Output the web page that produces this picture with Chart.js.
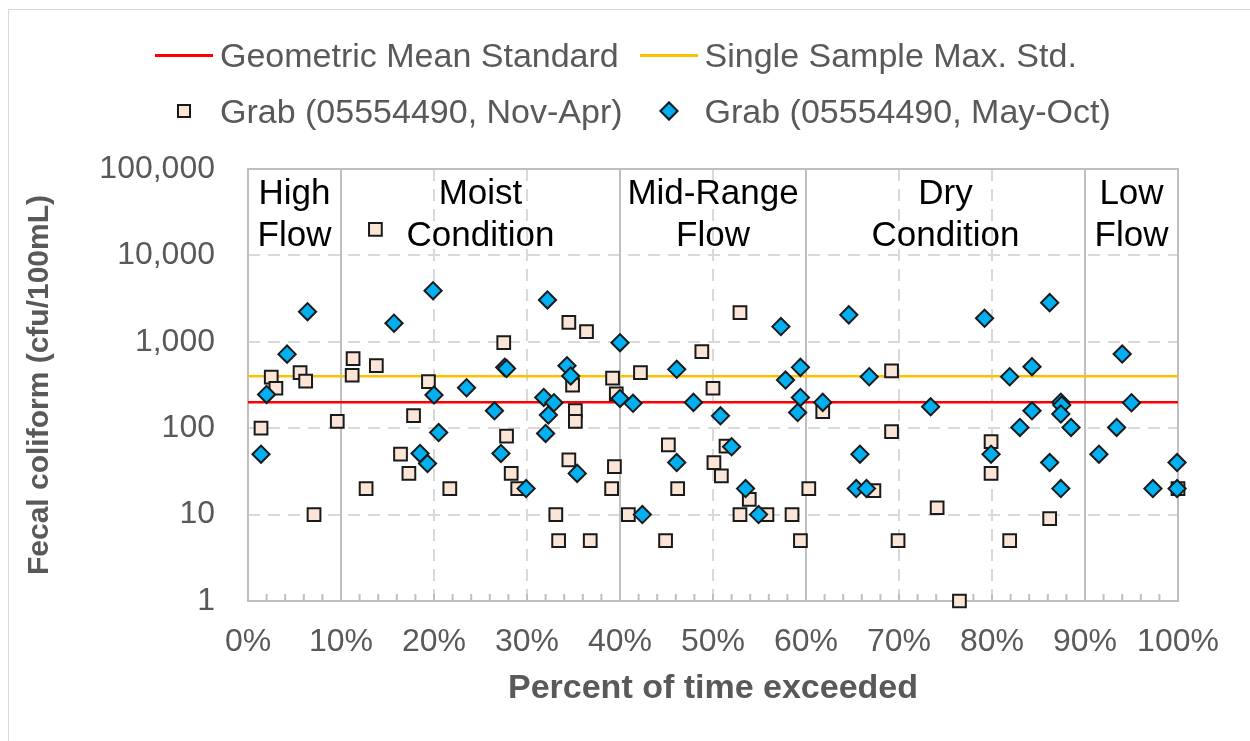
<!DOCTYPE html>
<html>
<head>
<meta charset="utf-8">
<title>Fecal coliform - load duration</title>
<script src="https://cdn.jsdelivr.net/npm/chart.js@4.4.1/dist/chart.umd.min.js"></script>
<style>
  body { margin: 0; background: #fff; font-family: "Liberation Sans", Arial, sans-serif; }
  #frame { position: absolute; left: 8px; top: 9px; width: 1260px; height: 760px; border: 1px solid #d9d9d9; }
  #wrap { position: absolute; left: 0; top: 0; width: 1250px; height: 741px; }
  #legend {
    position: absolute; left: 155px; top: 35px; z-index: 2;
    display: grid; grid-template-columns: 58px auto 58px auto;
    row-gap: 16px; align-items: center;
    font-size: 34px; color: #595959; white-space: nowrap;
  }
  #legend .txt { height: 40px; line-height: 40px; padding: 0 17px 0 7px; }
  #legend .sym { justify-self: center; box-sizing: border-box; }
</style>
</head>
<body>
<div id="frame"></div>
<div id="wrap"><canvas id="chart"></canvas></div>
<div id="legend"></div>
<script>
// percent of time exceeded (flow duration) and fecal coliform, cfu/100mL
const novAprPct = [1.4, 2.5, 3.0, 5.6, 6.2, 7.1, 9.6, 11.2, 11.3, 12.7, 13.7, 13.8, 16.4, 17.3, 17.8, 19.4, 21.7,
  27.5, 27.8, 28.3, 29.0, 33.1, 33.4, 34.5, 34.5, 34.9, 35.2, 35.2, 36.4, 36.8, 39.1, 39.2, 39.4, 39.6, 40.9, 42.2,
  44.9, 45.2, 46.2, 48.8, 50.0, 50.1, 50.9, 51.4, 52.9, 52.9, 53.9, 55.8, 58.5, 59.4, 60.3, 61.8, 67.3, 69.2, 69.2,
  69.9, 74.1, 76.5, 79.9, 79.9, 81.9, 86.2, 100];
const novAprCfu = [100, 390, 290, 440, 350, 10, 120, 410, 640, 20, 20000, 530, 50, 30, 140, 345, 20,
  980, 81, 30, 20, 10, 5, 1680, 43, 316, 160, 120, 1310, 5, 20, 380, 36, 250, 10, 440,
  5, 64, 20, 770, 290, 40, 28, 62, 2170, 10, 15, 10, 10, 5, 20, 155, 19, 460, 91,
  5, 12, 1, 70, 30, 5, 9, 20];

const mayOctPct = [1.4, 2.0, 4.2, 6.4, 15.7, 18.5, 19.3, 19.9, 20.0, 20.5, 23.5, 26.5, 27.2, 27.6, 27.8, 29.9,
  31.8, 32.0, 32.2, 32.3, 32.9, 34.3, 34.7, 35.4, 40.0, 40.0, 41.4, 42.4, 46.1, 46.1, 47.9, 50.8, 52.0, 53.5,
  54.9, 57.3, 57.8, 59.1, 59.4, 59.4, 61.8, 64.6, 65.4, 65.8, 66.5, 66.8, 73.4, 79.2, 79.9, 81.9, 83.0, 84.3,
  84.3, 86.2, 86.2, 87.4, 87.5, 87.4, 87.4, 88.5, 91.5, 93.4, 94.0, 95.0, 97.3, 99.9, 99.9];
const mayOctCfu = [50, 246, 720, 2230, 1640, 51, 39, 3900, 242, 89, 294, 159, 51, 506, 490, 20,
  227, 87, 3050, 142, 197, 528, 402, 30, 977, 221, 194, 10, 480, 40, 199, 139, 61, 20,
  10, 1500, 361, 152, 506, 227, 199, 2050, 20, 50, 20, 394, 177, 1870, 50, 394, 102, 159,
  515, 2840, 40, 200, 185, 146, 20, 102, 50, 102, 722, 197, 20, 40, 20];

// water quality standards (cfu/100mL)
const geoMeanStd = 200;
const singleMaxStd = 400;

// flow zones: boundaries in percent and their names
const zoneBreaks = [10, 40, 60, 90];
const zoneNames = [['High', 'Flow'], ['Moist', 'Condition'], ['Mid-Range', 'Flow'], ['Dry', 'Condition'], ['Low', 'Flow']];

const xTicks = [0, 10, 20, 30, 40, 50, 60, 70, 80, 90, 100];
const yTicks = [1, 10, 100, 1000, 10000, 100000];

const gray = '#595959';
const FONT = '"Liberation Sans", Arial, sans-serif';

const toPoints = (xs, ys) => xs.map((x, i) => ({ x: x, y: ys[i] }));

// frame, zone separators, minor ticks and zone names
const flowZones = {
  id: 'flowZones',
  beforeDatasetsDraw(chart) {
    const { ctx, chartArea: a, scales: { x } } = chart;
    ctx.save();
    ctx.strokeStyle = '#bfbfbf';
    ctx.lineWidth = 2;
    ctx.beginPath();
    for (let p = 2; p < 100; p += 2) {
      const px = x.getPixelForValue(p);
      ctx.moveTo(px, a.bottom);
      ctx.lineTo(px, a.bottom - 7);
    }
    zoneBreaks.forEach(b => {
      const px = Math.round(x.getPixelForValue(b));
      ctx.moveTo(px, a.top);
      ctx.lineTo(px, a.bottom);
    });
    ctx.stroke();
    ctx.strokeRect(a.left, a.top, a.right - a.left, a.bottom - a.top);

    const edges = [0].concat(zoneBreaks, [100]);
    ctx.fillStyle = '#000';
    ctx.font = '35px ' + FONT;
    ctx.textAlign = 'center';
    ctx.textBaseline = 'middle';
    zoneNames.forEach((lines, i) => {
      const cx = x.getPixelForValue((edges[i] + edges[i + 1]) / 2);
      lines.forEach((t, j) => ctx.fillText(t, cx, a.top + 25 + j * 42));
    });
    ctx.restore();
  }
};

const chart = new Chart(document.getElementById('chart'), {
  type: 'scatter',
  data: {
    datasets: [
      {
        type: 'line', label: 'Geometric Mean Standard',
        data: [{ x: 0, y: geoMeanStd }, { x: 100, y: geoMeanStd }],
        borderColor: '#ff0000', borderWidth: 2.5, pointRadius: 0, order: 2
      },
      {
        type: 'line', label: 'Single Sample Max. Std.',
        data: [{ x: 0, y: singleMaxStd }, { x: 100, y: singleMaxStd }],
        borderColor: '#ffc000', borderWidth: 2.5, pointRadius: 0, order: 3
      },
      {
        label: 'Grab (05554490, Nov-Apr)',
        data: toPoints(novAprPct, novAprCfu),
        pointStyle: 'rect', pointRadius: 9,
        backgroundColor: '#fbe5d6', borderColor: '#1a1a1a', borderWidth: 2,
        clip: false, order: 1
      },
      {
        label: 'Grab (05554490, May-Oct)',
        data: toPoints(mayOctPct, mayOctCfu),
        pointStyle: 'rectRot', pointRadius: 8.6,
        backgroundColor: '#00b0f0', borderColor: '#1a1a1a', borderWidth: 2,
        clip: false, order: 0
      }
    ]
  },
  options: {
    responsive: true,
    maintainAspectRatio: false,
    animation: false,
    events: [],
    layout: { padding: { top: 169, right: 72, left: 0, bottom: 0 } },
    plugins: { legend: { display: false }, tooltip: { enabled: false } },
    scales: {
      x: {
        type: 'linear', min: 0, max: 100,
        afterBuildTicks: s => { s.ticks = xTicks.map(v => ({ value: v })); },
        afterFit: s => { s.height = 140; },
        ticks: {
          callback: v => v + '%', color: gray, autoSkip: false, maxRotation: 0,
          font: { family: FONT, size: 32 }, padding: 22
        },
        grid: { color: '#d9d9d9', lineWidth: 2, drawTicks: false },
        border: { display: false, dash: [12, 8] },
        title: {
          display: true, text: 'Percent of time exceeded', color: gray,
          font: { family: FONT, size: 34, weight: 'bold' }, padding: { bottom: 32 }
        }
      },
      y: {
        type: 'logarithmic', min: 1, max: 100000,
        afterBuildTicks: s => { s.ticks = yTicks.map(v => ({ value: v })); },
        afterFit: s => { s.width = 248; },
        ticks: {
          callback: v => Number(v).toLocaleString('en-US'), color: gray,
          font: { family: FONT, size: 32 }, padding: 33
        },
        grid: { color: '#d9d9d9', lineWidth: 2, drawTicks: false },
        border: { display: false, dash: [12, 8] },
        title: {
          display: true, text: 'Fecal coliform (cfu/100mL)', color: gray,
          font: { family: FONT, size: 30, weight: 'bold' }, padding: { top: 22 }
        }
      }
    }
  },
  plugins: [flowZones]
});

// legend laid out as a two-column grid, built from the datasets
function buildLegend(c) {
  const box = document.getElementById('legend');
  c.data.datasets.forEach(ds => {
    const sym = document.createElement('div');
    sym.className = 'sym';
    if (ds.type === 'line') {
      sym.style.width = '58px';
      sym.style.height = '3px';
      sym.style.background = ds.borderColor;
    } else {
      sym.style.width = '14px';
      sym.style.height = '14px';
      sym.style.background = ds.backgroundColor;
      sym.style.border = '2px solid ' + ds.borderColor;
      if (ds.pointStyle === 'rectRot') sym.style.transform = 'rotate(45deg)';
    }
    const txt = document.createElement('div');
    txt.className = 'txt';
    txt.textContent = ds.label;
    box.appendChild(sym);
    box.appendChild(txt);
  });
}
buildLegend(chart);
</script>
</body>
</html>
